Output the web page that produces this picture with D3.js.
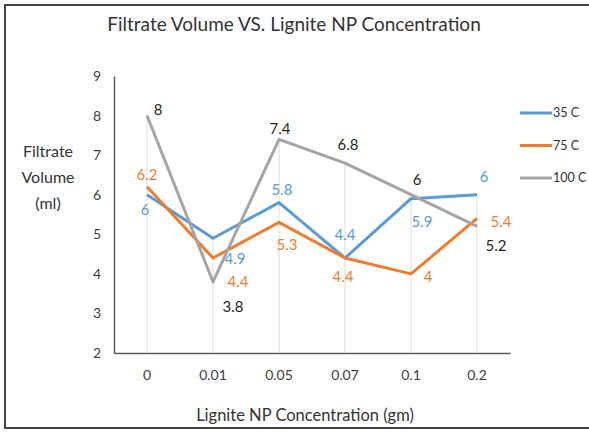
<!DOCTYPE html>
<html>
<head>
<meta charset="utf-8">
<script src="https://cdn.jsdelivr.net/npm/d3@7"></script>
<style>
  body { margin: 0; background: #fff; }
  text { font-family: Lato, "Open Sans", sans-serif; }
</style>
</head>
<body>
<div id="chart"></div>
<script>
// filtrate volume vs lignite NP concentration

var categories = ["0", "0.01", "0.05", "0.07", "0.1", "0.2"];
var seriesNames = ["35 C", "75 C", "100 C"];
var vol35 = [6, 4.9, 5.8, 4.4, 5.9, 6];
var vol75 = [6.2, 4.4, 5.3, 4.4, 4, 5.4];
var vol100 = [8, 3.8, 7.4, 6.8, 6, 5.2];
var yTicks = [2, 3, 4, 5, 6, 7, 8, 9];

var colors = ["#5b9bd5", "#ed7d31", "#a5a5a5"];
var labelColors = ["#5b9bd5", "#ed7d31", "#262626"];
// label offsets (dx, dy) from each point, roughly as excel placed them
var offsets = [
  [[-2, 15], [22, 21], [3, -13], [0, -23], [11, 23], [7, -18]],
  [[0, -12], [25, 24], [8, 22], [-2, 19], [17, 3], [24, 3]],
  [[11, -6], [20, 25], [1, -11], [3, -18], [6, -15], [19, 19]]
];

var width = 589,
    height = 432;

var svg = d3.select("#chart").append("svg")
    .attr("width", width)
    .attr("height", height);

// outer frame
svg.append("rect")
   .attr("x", 5).attr("y", 5)
   .attr("width", 600).attr("height", 423)
   .attr("fill", "none")
   .attr("stroke", "#444")
   .attr("stroke-width", 2);

var x = d3.scaleBand()
    .domain(categories)
    .range([114, 510]);

var y = d3.scaleLinear()
    .domain([2, 9])
    .range([353, 76]);

var series = [vol35, vol75, vol100];

// drop lines
svg.selectAll("line.drop")
   .data(categories)
   .enter().append("line")
   .attr("class", "drop")
   .attr("x1", function(d) { return x(d) + x.bandwidth() / 2; })
   .attr("x2", function(d) { return x(d) + x.bandwidth() / 2; })
   .attr("y1", function(d, i) { return y(d3.max(series, function(s) { return s[i]; })); })
   .attr("y2", y(2))
   .attr("stroke", "#dcdcdc")
   .attr("stroke-width", 1);

// axes
var yAxis = d3.axisLeft(y).tickValues(yTicks).tickFormat(d3.format("d")).tickSize(0).tickPadding(13);
var gy = svg.append("g").attr("transform", "translate(114,0)").call(yAxis);
gy.select(".domain").attr("stroke", "#595959").attr("stroke-width", 1.5);
gy.selectAll("text").attr("font-size", 14).attr("fill", "#404040");

var xAxis = d3.axisBottom(x).tickSize(0).tickPadding(17);
var gx = svg.append("g").attr("transform", "translate(0,353)").call(xAxis);
gx.select(".domain").attr("stroke", "#595959").attr("stroke-width", 1.5);
gx.selectAll("text").attr("font-size", 14).attr("fill", "#404040");

// lines
var line = d3.line()
    .x(function(d, i) { return x(categories[i]) + x.bandwidth() / 2; })
    .y(function(d) { return y(d); });

series.forEach(function(s, k) {
  svg.append("path")
     .datum(s)
     .attr("fill", "none")
     .attr("stroke", colors[k])
     .attr("stroke-width", 3)
     .attr("stroke-linejoin", "round")
     .attr("d", line);
});

// data labels
series.forEach(function(s, k) {
  svg.selectAll("text.lab" + k)
     .data(s)
     .enter().append("text")
     .attr("class", "lab" + k)
     .attr("x", function(d, i) { return x(categories[i]) + x.bandwidth() / 2 + offsets[k][i][0]; })
     .attr("y", function(d, i) { return y(d) + offsets[k][i][1]; })
     .attr("dy", "0.35em")
     .attr("text-anchor", "middle")
     .attr("font-size", 15)
     .attr("fill", labelColors[k])
     .text(function(d) { return d; });
});

// title
svg.append("text")
   .attr("x", 294).attr("y", 31)
   .attr("text-anchor", "middle")
   .attr("font-size", 19)
   .attr("fill", "#333")
   .text("Filtrate Volume VS. Lignite NP Concentration");

// y axis title
svg.append("text")
   .attr("text-anchor", "middle")
   .attr("font-size", 16)
   .attr("fill", "#333")
   .selectAll("tspan")
   .data(["Filtrate", "Volume", "(ml)"])
   .enter().append("tspan")
   .attr("x", 48)
   .attr("y", function(d, i) { return 157 + i * 26; })
   .text(function(d) { return d; });

// x axis title
svg.append("text")
   .attr("x", 305).attr("y", 421)
   .attr("text-anchor", "middle")
   .attr("font-size", 16.5)
   .attr("fill", "#333")
   .text("Lignite NP Concentration (gm)");

// legend
var legend = svg.selectAll("g.legend")
    .data(seriesNames)
    .enter().append("g")
    .attr("class", "legend")
    .attr("transform", function(d, i) { return "translate(520," + (113 + i * 32.5) + ")"; });

legend.append("line")
   .attr("x1", 0).attr("x2", 32)
   .attr("stroke", function(d, i) { return colors[i]; })
   .attr("stroke-width", 3);

legend.append("text")
   .attr("x", 33)
   .attr("dy", "0.35em")
   .attr("font-size", 12.5)
   .attr("fill", "#333")
   .text(function(d) { return d; });
</script>
</body>
</html>
